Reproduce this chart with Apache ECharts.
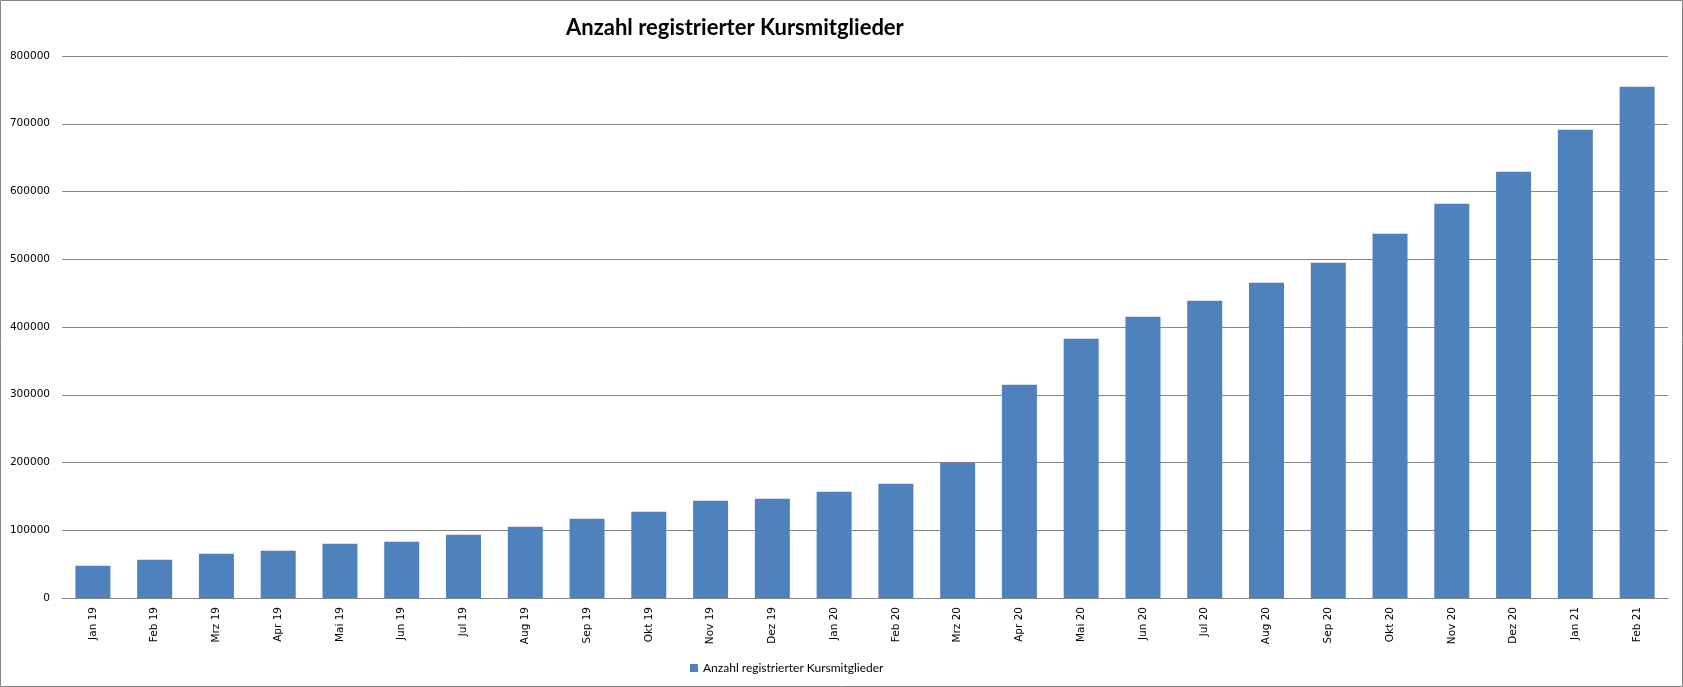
<!DOCTYPE html>
<html>
<head>
<meta charset="utf-8">
<script src="https://cdn.jsdelivr.net/npm/echarts@6/dist/echarts.min.js"></script>
<style>
html,body{margin:0;padding:0;background:#fff;}
#chart{width:1683px;height:687px;}
</style>
</head>
<body>
<div id="chart"></div>
<script>
const categories = ["Jan 19","Feb 19","Mrz 19","Apr 19","Mai 19","Jun 19","Jul 19","Aug 19","Sep 19","Okt 19","Nov 19","Dez 19",
  "Jan 20","Feb 20","Mrz 20","Apr 20","Mai 20","Jun 20","Jul 20","Aug 20","Sep 20","Okt 20","Nov 20","Dez 20","Jan 21","Feb 21"];
const members = [47700,56500,65400,69800,80100,83100,93400,105200,117000,127400,143600,146600,
  156900,168700,199500,314800,382700,415200,438800,465400,494900,537700,582000,629200,691200,754700];
const seriesName = "Anzahl registrierter Kursmitglieder";
const titleText = "Anzahl registrierter Kursmitglieder";

const chart = echarts.init(document.getElementById('chart'));
chart.setOption({
  animation: false,
  backgroundColor: '#ffffff',
  title: {
    text: titleText,
    left: 561,
    top: 12,
    textStyle: {fontFamily: 'Lato', fontWeight: 'bold', fontSize: 22, color: '#000'}
  },
  legend: {
    left: 685,
    top: 657,
    itemWidth: 8,
    itemHeight: 8,
    itemGap: 4,
    icon: 'rect',
    textStyle: {fontFamily: 'Lato', fontSize: 12, color: '#000'},
    data: [seriesName]
  },
  grid: {left: 62, right: 15, top: 56, bottom: 89, containLabel: false},
  xAxis: {
    type: 'category',
    data: categories,
    axisLine: {show: true, lineStyle: {color: '#868686', width: 1}},
    axisTick: {show: false},
    axisLabel: {rotate: 90, margin: 9, fontFamily: 'DejaVu Sans', fontSize: 10.5, color: '#000', interval: 0}
  },
  yAxis: {
    type: 'value',
    min: 0,
    max: 800000,
    interval: 100000,
    axisLine: {show: false},
    axisTick: {show: false},
    splitLine: {show: true, lineStyle: {color: '#868686', width: 1}},
    axisLabel: {margin: 12, fontFamily: 'DejaVu Sans', fontSize: 10.5, color: '#000',
      formatter: function (v) { return String(v); }}
  },
  series: [{
    name: seriesName,
    type: 'bar',
    data: members,
    barWidth: 35,
    itemStyle: {color: '#4F81BD'}
  }],
  graphic: [{
    type: 'rect',
    shape: {x: 0.5, y: 0.5, width: 1682, height: 686},
    style: {fill: 'none', stroke: '#868686', lineWidth: 1},
    silent: true
  }]
});
</script>
</body>
</html>
